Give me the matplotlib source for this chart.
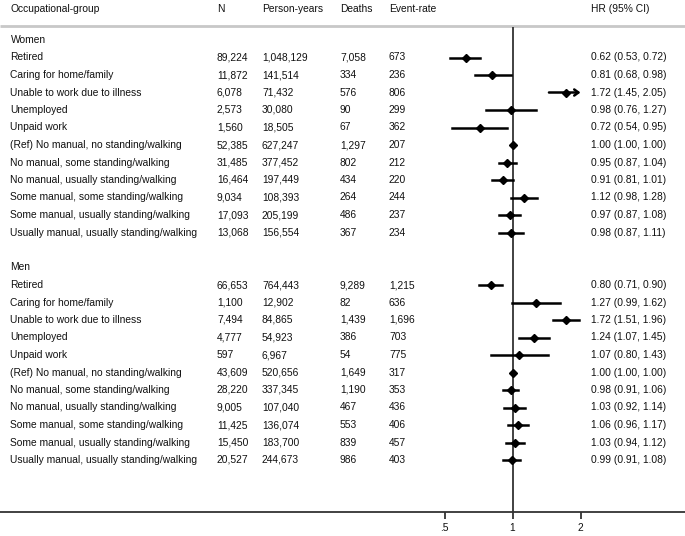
import matplotlib
matplotlib.use("Agg")
import matplotlib.pyplot as plt
import numpy as np

plt.rcParams['font.family'] = ['Liberation Sans', 'DejaVu Sans']

groups = ["Women", "Men"]
categories = [
    "Retired",
    "Caring for home/family",
    "Unable to work due to illness",
    "Unemployed",
    "Unpaid work",
    "(Ref) No manual, no standing/walking",
    "No manual, some standing/walking",
    "No manual, usually standing/walking",
    "Some manual, some standing/walking",
    "Some manual, usually standing/walking",
    "Usually manual, usually standing/walking",
]

women_n = [89224, 11872, 6078, 2573, 1560, 52385, 31485, 16464, 9034, 17093, 13068]
women_py = [1048129, 141514, 71432, 30080, 18505, 627247, 377452, 197449, 108393, 205199, 156554]
women_deaths = [7058, 334, 576, 90, 67, 1297, 802, 434, 264, 486, 367]
women_rate = [673, 236, 806, 299, 362, 207, 212, 220, 244, 237, 234]
women_hr = [0.62, 0.81, 1.72, 0.98, 0.72, 1.00, 0.95, 0.91, 1.12, 0.97, 0.98]
women_lo = [0.53, 0.68, 1.45, 0.76, 0.54, 1.00, 0.87, 0.81, 0.98, 0.87, 0.87]
women_hi = [0.72, 0.98, 2.05, 1.27, 0.95, 1.00, 1.04, 1.01, 1.28, 1.08, 1.11]

men_n = [66653, 1100, 7494, 4777, 597, 43609, 28220, 9005, 11425, 15450, 20527]
men_py = [764443, 12902, 84865, 54923, 6967, 520656, 337345, 107040, 136074, 183700, 244673]
men_deaths = [9289, 82, 1439, 386, 54, 1649, 1190, 467, 553, 839, 986]
men_rate = [1215, 636, 1696, 703, 775, 317, 353, 436, 406, 457, 403]
men_hr = [0.80, 1.27, 1.72, 1.24, 1.07, 1.00, 0.98, 1.03, 1.06, 1.03, 0.99]
men_lo = [0.71, 0.99, 1.51, 1.07, 0.80, 1.00, 0.91, 0.92, 0.96, 0.94, 0.91]
men_hi = [0.90, 1.62, 1.96, 1.45, 1.43, 1.00, 1.06, 1.14, 1.17, 1.12, 1.08]

headers = ["Occupational-group", "N", "Person-years", "Deaths", "Event-rate", "HR (95% CI)"]
xticks = [0.5, 1, 2]
xtick_labels = [".5", "1", "2"]
display_max = 2.0

W, H = 685, 536
FS = 7.4
fig = plt.figure(figsize=(W / 100, H / 100), dpi=100)

# text layer in pixel coordinates
ax_t = fig.add_axes([0, 0, 1, 1])
ax_t.set_xlim(0, W)
ax_t.set_ylim(H, 0)
ax_t.axis('off')

col_x = [10.5, 217, 262, 340, 389, 591]
row0, step = 40, 17.5
header_y = 9

for x, h in zip(col_x, headers):
    ax_t.text(x, header_y, h, fontsize=FS, va='center', ha='left', color='#111111')
ax_t.plot([0, W], [26, 26], color='#c8c8c8', lw=2.0, solid_capstyle='butt')

# forest axes
top_pix, bot_pix = 27, 512
ax_f = fig.add_axes([0, (H - bot_pix) / H, 1, (bot_pix - top_pix) / H])
ax_f.patch.set_alpha(0)
ax_f.set_xscale('log', base=2)
one_pix, oct_pix = 512.5, 68.0
ax_f.set_xlim(2 ** (-one_pix / oct_pix), 2 ** ((W - one_pix) / oct_pix))
ax_f.set_ylim(bot_pix, top_pix)
for s in ['top', 'left', 'right']:
    ax_f.spines[s].set_visible(False)
ax_f.spines['bottom'].set_color('#333333')
ax_f.spines['bottom'].set_linewidth(1.3)
ax_f.set_yticks([])
ax_f.set_xticks(xticks)
ax_f.set_xticklabels(xtick_labels, fontsize=FS, color='#111111')
ax_f.minorticks_off()
ax_f.tick_params(axis='x', length=5, width=1.3, color='#333333', pad=3)
ax_f.axvline(1, color='#333333', lw=1.3, zorder=1)

datasets = [
    (women_n, women_py, women_deaths, women_rate, women_hr, women_lo, women_hi),
    (men_n, men_py, men_deaths, men_rate, men_hr, men_lo, men_hi),
]

i = 0
for g, data in zip(groups, datasets):
    ax_t.text(col_x[0], row0 + step * i, g, fontsize=FS, va='center', color='#111111')
    i += 1
    n, py, d, r, hr, lo, hi = data
    for k, cat in enumerate(categories):
        y = row0 + step * i
        vals = [cat, f"{n[k]:,}", f"{py[k]:,}", f"{d[k]:,}", f"{r[k]:,}",
                f"{hr[k]:.2f} ({lo[k]:.2f}, {hi[k]:.2f})"]
        for x, v in zip(col_x, vals):
            ax_t.text(x, y, v, fontsize=FS, va='center', ha='left', color='#111111')
        if hi[k] > display_max:
            ax_f.annotate('', xy=(display_max, y), xytext=(lo[k], y),
                          arrowprops=dict(arrowstyle='->,head_length=0.3,head_width=0.22',
                                          color='black', lw=1.8, shrinkA=0, shrinkB=0),
                          zorder=2)
        else:
            ax_f.plot([lo[k], hi[k]], [y, y], color='black', lw=1.8, zorder=2)
        ax_f.plot([hr[k]], [y], marker='D', color='black', markersize=4.5, zorder=3)
        i += 1
    i += 1

fig.savefig('out.png', dpi=100)
